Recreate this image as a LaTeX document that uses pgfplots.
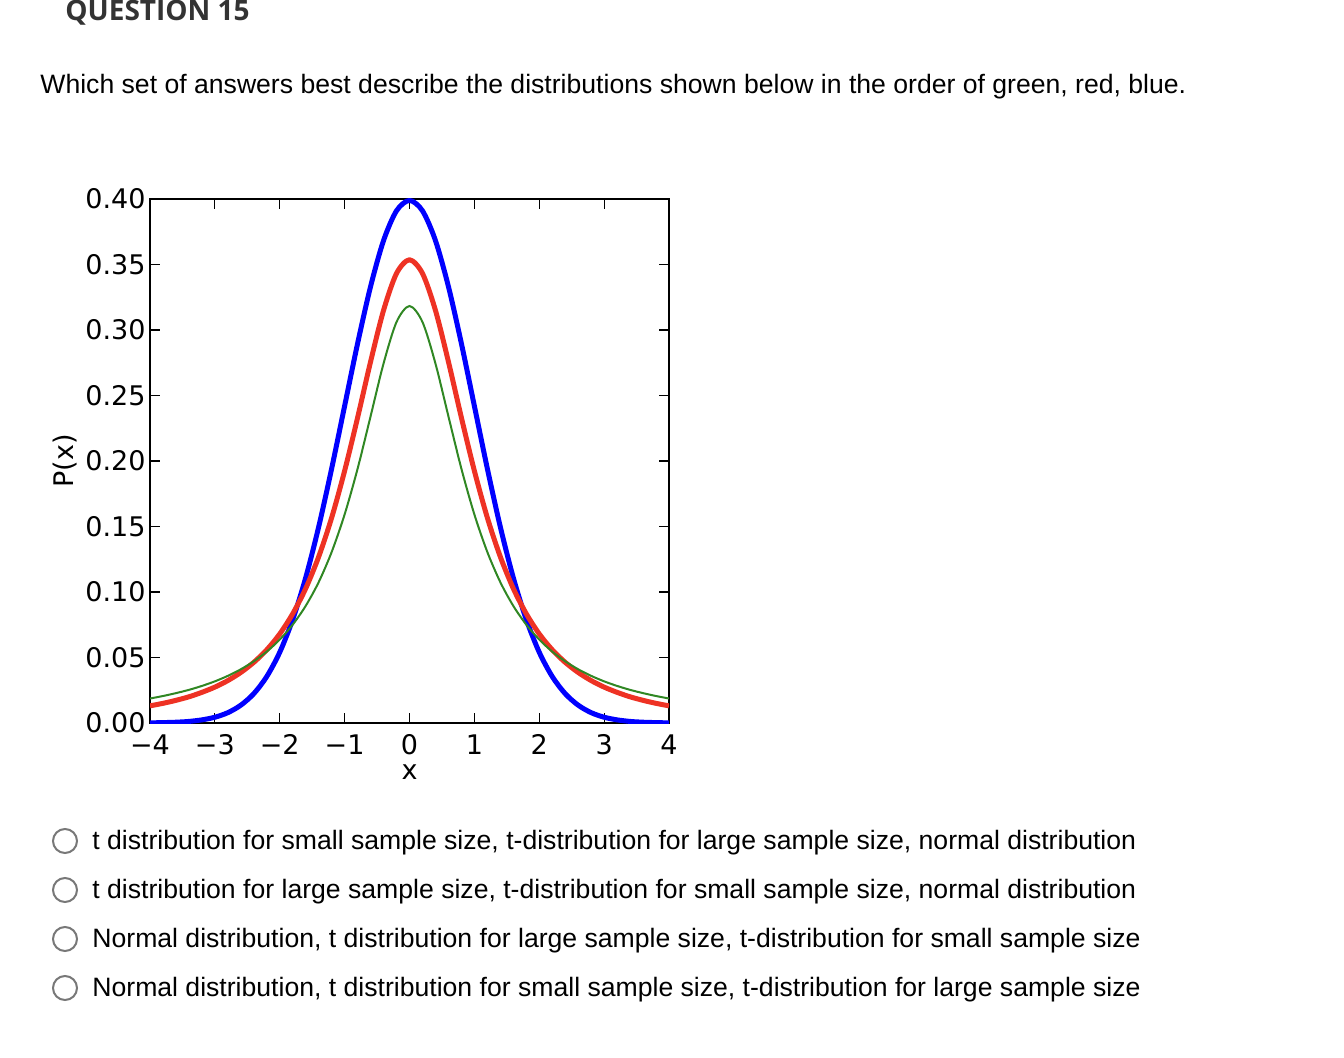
\documentclass[border=0pt]{standalone}
\usepackage{pgfplots}
\pgfplotsset{compat=1.18}
\usepackage{pgfplotstable}
\usepackage{fontspec}
\setmainfont{Liberation Sans}
\newfontfamily\titlefont{Open Sans}
\newfontfamily\mplfont{DejaVu Sans}

\definecolor{mplblue}{RGB}{0,0,255}
\definecolor{mplred}{RGB}{238,50,36}
\definecolor{mplgreen}{RGB}{48,135,35}
\definecolor{titlegray}{RGB}{51,51,51}
\definecolor{radiogray}{RGB}{120,120,120}

% x, normal, t (2 dof), t (1 dof)
\pgfplotstableread{
x     normal  tsmall  tone
-4.0  0.0001  0.0131  0.0187
-3.8  0.0003  0.0150  0.0206
-3.6  0.0006  0.0173  0.0228
-3.4  0.0012  0.0200  0.0253
-3.2  0.0024  0.0234  0.0283
-3.0  0.0044  0.0274  0.0318
-2.8  0.0079  0.0324  0.0360
-2.6  0.0136  0.0386  0.0410
-2.4  0.0224  0.0463  0.0471
-2.2  0.0355  0.0559  0.0545
-2.0  0.0540  0.0680  0.0637
-1.8  0.0790  0.0834  0.0751
-1.6  0.1109  0.1027  0.0894
-1.4  0.1497  0.1269  0.1075
-1.2  0.1942  0.1567  0.1305
-1.0  0.2420  0.1925  0.1592
-0.8  0.2897  0.2331  0.1941
-0.6  0.3332  0.2758  0.2341
-0.4  0.3683  0.3150  0.2744
-0.2  0.3910  0.3432  0.3061
 0.0  0.3989  0.3536  0.3183
 0.2  0.3910  0.3432  0.3061
 0.4  0.3683  0.3150  0.2744
 0.6  0.3332  0.2758  0.2341
 0.8  0.2897  0.2331  0.1941
 1.0  0.2420  0.1925  0.1592
 1.2  0.1942  0.1567  0.1305
 1.4  0.1497  0.1269  0.1075
 1.6  0.1109  0.1027  0.0894
 1.8  0.0790  0.0834  0.0751
 2.0  0.0540  0.0680  0.0637
 2.2  0.0355  0.0559  0.0545
 2.4  0.0224  0.0463  0.0471
 2.6  0.0136  0.0386  0.0410
 2.8  0.0079  0.0324  0.0360
 3.0  0.0044  0.0274  0.0318
 3.2  0.0024  0.0234  0.0283
 3.4  0.0012  0.0200  0.0253
 3.6  0.0006  0.0173  0.0228
 3.8  0.0003  0.0150  0.0206
 4.0  0.0001  0.0131  0.0187
}\dists

\begin{document}
\begin{tikzpicture}
% page: 1344 x 1058 px, 1 px = 0.5pt, y grows downward inside the scope
\begin{scope}[x=0.5pt,y=-0.5pt]
\useasboundingbox (0,0) rectangle (1344,1058);
\node[anchor=base west,inner sep=0pt,text=titlegray,font=\titlefont\bfseries\fontsize{14}{16}\selectfont] at (65,21) {QUESTION 15};
\node[anchor=base west,inner sep=0pt,font=\fontsize{13.3}{16}\selectfont] at (40,94)
  {Which set of answers best describe the distributions shown below in the order of green, red, blue.};
\foreach \yy/\txt in {
  841/{t distribution for small sample size, t-distribution for large sample size, normal distribution},
  890/{t distribution for large sample size, t-distribution for small sample size, normal distribution},
  939/{Normal distribution, t distribution for large sample size, t-distribution for small sample size},
  988/{Normal distribution, t distribution for small sample size, t-distribution for large sample size}}{
  \draw[radiogray, line width=1pt] (65,\yy) circle[radius=12];
  \node[anchor=base west,inner sep=0pt,font=\fontsize{13.3}{16}\selectfont] at (92,\yy+8) {\txt};
}
\end{scope}

\begin{axis}[
  at={(75pt,-361.5pt)}, anchor=south west,
  scale only axis, width=259.5pt, height=262pt,
  xmin=-4, xmax=4, ymin=0, ymax=0.40,
  axis line style={line width=1pt},
  tick style={black, line width=0.6pt},
  major tick length=5pt,
  tick align=inside,
  xtick={-4,-3,...,4},
  xticklabels={−4,−3,−2,−1,0,1,2,3,4},
  ytick={0,0.05,...,0.41},
  yticklabels={0.00,0.05,0.10,0.15,0.20,0.25,0.30,0.35,0.40},
  tick label style={font=\mplfont\fontsize{13.5}{16}\selectfont},
  yticklabel style={inner xsep=2pt},
  xticklabel style={inner ysep=5.5pt},
  xlabel={x}, ylabel={P(x)},
  label style={font=\mplfont\fontsize{13.5}{16}\selectfont},
  x label style={at={(axis description cs:0.5,-0.0935)},anchor=center},
  y label style={at={(axis description cs:-0.164,0.5)},anchor=center},
]
\addplot[mplblue, line width=2.5pt, smooth, line join=round] table[x=x,y=normal] {\dists};
\addplot[mplred, line width=2.5pt, smooth, line join=round] table[x=x,y=tsmall] {\dists};
\addplot[mplgreen, line width=1pt, smooth] table[x=x,y=tone] {\dists};
\end{axis}
\end{tikzpicture}
\end{document}
